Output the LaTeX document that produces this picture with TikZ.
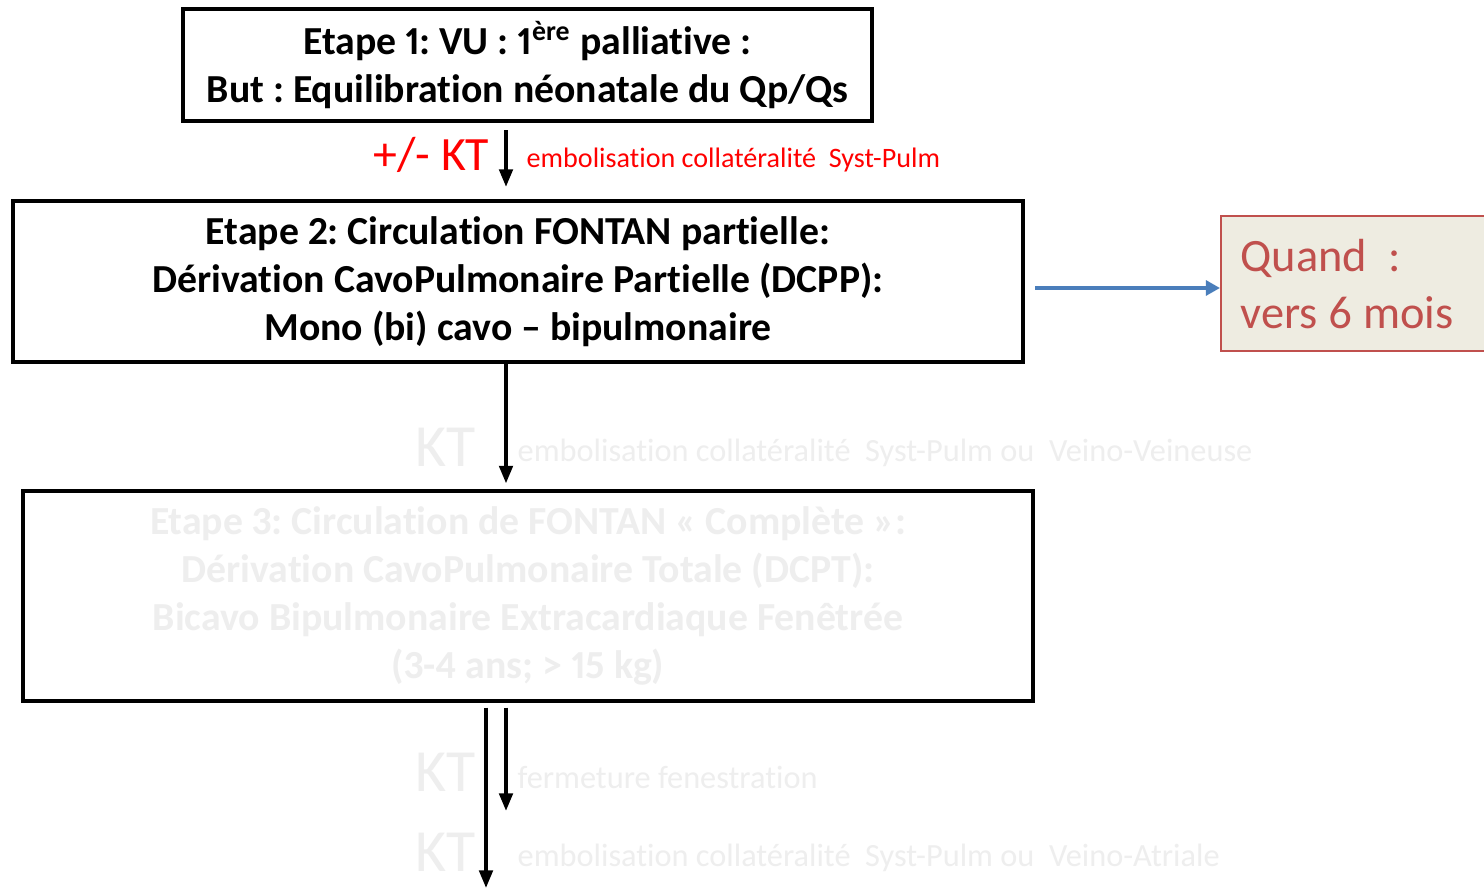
\documentclass[tikz,border=0pt]{standalone}
\usepackage{fontspec}
\setmainfont{Carlito}[Ligatures={NoCommon}, Numbers=Proportional]
\frenchspacing
\usetikzlibrary{arrows.meta}
\definecolor{faint}{HTML}{EEEEEE}
\definecolor{quandred}{HTML}{C0504D}
\definecolor{quandbg}{HTML}{EEECE1}
\definecolor{linkblue}{HTML}{4A7EBB}
\tikzset{
  stagebox/.style={draw=black, line width=1.15pt, inner sep=0pt, align=center,
    font=\bfseries\fontsize{11.3}{13.6}\selectfont},
  arr/.style={line width=1.05pt, -{Triangle[length=5pt,width=3.8pt]}},
  ktbig/.style={font=\fontsize{13.6}{16}\selectfont, inner sep=0pt},
  ktnote/.style={font=\fontsize{8.0}{10}\selectfont, inner sep=0pt},
  fadedbig/.style={font=\fontsize{17}{20}\selectfont, text=faint, inner sep=0pt},
  fadednote/.style={font=\fontsize{9.2}{12}\selectfont, text=faint, inner sep=0pt},
}
\begin{document}
\begin{tikzpicture}[x=0.01cm, y=-0.01cm]
\clip (0,0) rectangle (1484,888);
\fill[white] (0,0) rectangle (1484,888);

% stages
\node[stagebox, minimum width=6.89cm, minimum height=1.12cm] (b1) at (527.5,65)
  {Etape 1: VU : 1\textsuperscript{ère} palliative :\\But : Equilibration néonatale du Qp/Qs};
\node[stagebox, minimum width=10.10cm, minimum height=1.61cm] (b2) at (518,281.5)
  {Etape 2: Circulation FONTAN partielle:\\Dérivation CavoPulmonaire Partielle (DCPP):\\Mono (bi) cavo – bipulmonaire};
\node[stagebox, minimum width=10.10cm, minimum height=2.09cm, text=faint] (b3) at (528,596)
  {Etape 3: Circulation de FONTAN « Complète »:\\Dérivation CavoPulmonaire Totale (DCPT):\\Bicavo Bipulmonaire Extracardiaque Fenêtrée\\(3-4 ans; > 15 kg)};

% timing note: frame drawn first, text set on top
\node[draw=quandred, fill=quandbg, line width=0.5pt, minimum width=2.80cm, minimum height=1.35cm,
  anchor=west] (q) at (1220,283.5) {};
\node[anchor=west, text=quandred, align=left, inner sep=0pt,
  font=\fontsize{13.2}{16.2}\selectfont] (qt) at (1240,284.5)
  {Quand\ \ :\\vers 6 mois};

% vertical links
\coordinate (xa) at (506,0);
\coordinate (xb) at (486,0);
\coordinate (bottom) at (486,888);
\coordinate (ylink) at (0,288);
\draw[arr, shorten <=0.07cm, shorten >=0.12cm] (b1.south -| xa) -- (b2.north -| xa);
\draw[arr, shorten >=0.06cm] (b2.south -| xa) -- (b3.north -| xa);
\draw[arr, shorten <=0.05cm, shorten >=0.77cm] (b3.south -| xa) -- (bottom -| xa);
\draw[arr, shorten <=0.05cm] (b3.south -| xb) -- (bottom);

% horizontal link
\draw[line width=1.1pt, linkblue, -{Triangle[length=4pt,width=4.2pt]}, shorten <=0.10cm]
  (b2.east |- ylink) -- (q.west |- ylink);

% annotations
\node[ktbig, text=red, anchor=east] (kt1) at (490,155) {+/- KT};
\node[ktnote, text=red, anchor=west] (n1) at (526,160) {embolisation collatéralité\ \ Syst-Pulm};
\node[fadedbig, anchor=east] (kt2) at (476,447) {KT};
\node[fadednote, anchor=west] (n2) at (517,453) {embolisation collatéralité\ \ Syst-Pulm ou\ \ Veino-Veineuse};
\node[fadedbig, anchor=east] (kt3) at (476,772) {KT};
\node[fadednote, anchor=west] (n3) at (517,777) {fermeture fenestration};
\node[fadedbig, anchor=east] (kt4) at (476,852) {KT};
\node[fadednote, anchor=west] (n4) at (517,858) {embolisation collatéralité\ \ Syst-Pulm ou\ \ Veino-Atriale};
\end{tikzpicture}
\end{document}
